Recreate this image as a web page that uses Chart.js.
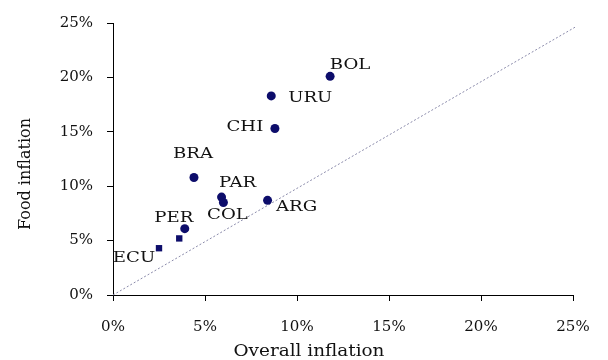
<!DOCTYPE html>
<html>
<head>
<meta charset="utf-8">
<script src="https://cdn.jsdelivr.net/npm/chart.js@4/dist/chart.umd.min.js"></script>
<style>
  html, body { margin: 0; padding: 0; background: #fff; }
  canvas { display: block; }
</style>
</head>
<body>
<canvas id="c" width="608" height="360"></canvas>
<script>
// ---- data ----
const countries = ['BOL', 'URU', 'CHI', 'BRA', 'PAR', 'COL', 'ARG', 'PER', '', 'ECU'];
const overallInflation = [11.8, 8.6, 8.8, 4.4, 5.9, 6.0, 8.4, 3.9, 3.6, 2.5];
const foodInflation = [20.1, 18.3, 15.3, 10.8, 9.0, 8.5, 8.7, 6.1, 5.2, 4.3];
const refLineX = [0, 25.2];
const refLineY = [0, 24.7];
const xTickLabels = ['0%', '5%', '10%', '15%', '20%', '25%'];
const yTickLabels = ['0%', '5%', '10%', '15%', '20%', '25%'];
const xTitle = 'Overall inflation';
const yTitle = 'Food inflation';

// ---- styles (label offsets relative to each point, in px) ----
const labelOffsets = [
  [20, -11], [39, 2], [-30, -1], [-1, -23], [16, -14],
  [4, 13], [29, 7], [-11, -10], [0, 0], [-25, 10]
];
const pointStyles = ['circle','circle','circle','circle','circle','circle','circle','circle','rect','rect'];

const points = overallInflation.map((x, i) => ({ x: x, y: foodInflation[i] }));
const linePts = refLineX.map((x, i) => ({ x: x, y: refLineY[i] }));

const TXT = '#111';
const SERIF = "'DejaVu Serif', 'Liberation Serif', serif";

const labelPlugin = {
  id: 'labels',
  afterDraw(chart) {
    const ctx = chart.ctx;
    const xs = chart.scales.x, ys = chart.scales.y;
    ctx.save();
    ctx.fillStyle = TXT;
    ctx.textAlign = 'center';
    ctx.textBaseline = 'middle';
    ctx.font = "14.5px " + SERIF;
    countries.forEach((name, i) => {
      if (!name) return;
      const px = xs.getPixelForValue(overallInflation[i]) + labelOffsets[i][0];
      const py = ys.getPixelForValue(foodInflation[i]) + labelOffsets[i][1];
      ctx.save();
      ctx.translate(px, py);
      ctx.scale(1.25, 1);
      ctx.fillText(name, 0, 0);
      ctx.restore();
    });
    // axis titles
    const ca = chart.chartArea;
    ctx.font = "16px " + SERIF;
    ctx.save();
    ctx.translate(ca.left + 196, 352);
    ctx.scale(1.15, 1);
    ctx.fillText(xTitle, 0, 0);
    ctx.restore();
    ctx.save();
    ctx.translate(26, ca.top + 151);
    ctx.rotate(-Math.PI / 2);
    ctx.fillText(yTitle, 0, 0);
    ctx.restore();
    ctx.restore();
  }
};

new Chart(document.getElementById('c'), {
  type: 'scatter',
  data: {
    datasets: [
      {
        data: points,
        backgroundColor: '#0d0d6b',
        borderColor: '#0d0d6b',
        borderWidth: 0,
        pointRadius: 4.5,
        pointStyle: pointStyles
      },
      {
        type: 'line',
        data: linePts,
        borderColor: '#8a8aaa',
        borderWidth: 1,
        borderDash: [2, 2],
        pointRadius: 0,
        fill: false,
        clip: false
      }
    ]
  },
  options: {
    responsive: false,
    animation: false,
    layout: { padding: { top: 19, right: 35, left: 0, bottom: 0 } },
    plugins: { legend: { display: false }, tooltip: { enabled: false } },
    scales: {
      x: {
        type: 'linear',
        min: 0, max: 25,
        afterFit: s => { s.height = 65; },
        ticks: {
          stepSize: 5,
          padding: 17,
          color: TXT,
          font: { family: SERIF, size: 15 },
          callback: (v, i) => xTickLabels[i]
        },
        grid: { drawOnChartArea: false, drawTicks: true, tickLength: 6, color: '#000', tickColor: '#000' },
        border: { display: true, color: '#000', width: 1 }
      },
      y: {
        type: 'linear',
        min: 0, max: 25,
        afterFit: s => { s.width = 113; },
        ticks: {
          stepSize: 5,
          padding: 14,
          color: TXT,
          font: { family: SERIF, size: 15 },
          callback: (v, i) => yTickLabels[i]
        },
        grid: { drawOnChartArea: false, drawTicks: true, tickLength: 6, color: '#000', tickColor: '#000' },
        border: { display: true, color: '#000', width: 1 }
      }
    }
  },
  plugins: [labelPlugin]
});
</script>
</body>
</html>
